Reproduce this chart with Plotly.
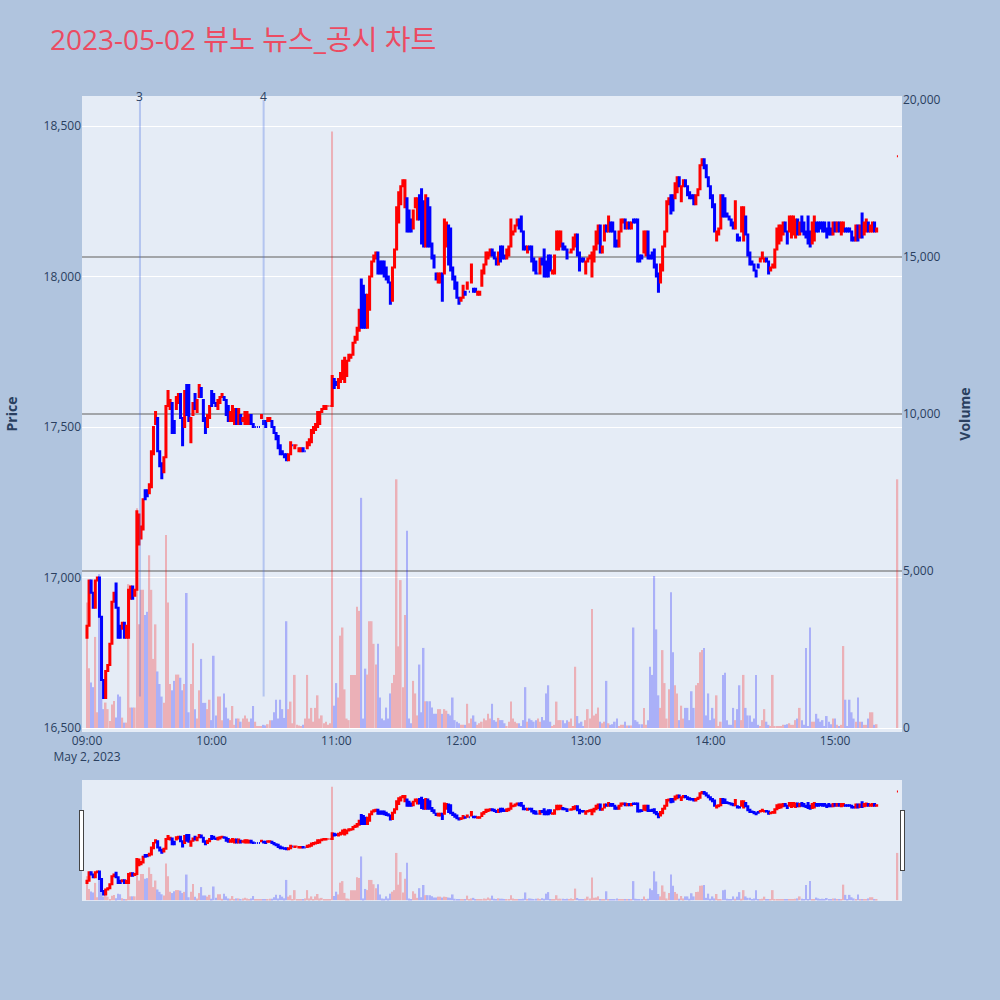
import plotly.graph_objects as go
import pandas as pd

# ---------------- data (1-minute candles, 09:00 .. 15:20, plus 15:30 close) ----------------
open_p = [
    16800, 16840, 16990, 16950, 16900, 16990, 17000, 16870, 16660, 16600,
    16690, 16710, 16780, 16920, 16980, 16900, 16840, 16830, 16850, 16800,
    16800, 16930, 16970, 16940, 16960, 17110, 17130, 17160, 17290, 17290,
    17280, 17300, 17410, 17510, 17530, 17420, 17380, 17350, 17400, 17570,
    17560, 17580, 17520, 17560, 17580, 17610, 17530, 17500, 17640, 17640,
    17450, 17540, 17610, 17550, 17600, 17630, 17590, 17530, 17500, 17530,
    17620, 17610, 17580, 17560, 17580, 17600, 17600, 17590, 17570, 17520,
    17520, 17510, 17560, 17510, 17540, 17520, 17510, 17510, 17510, 17540,
    17510, 17500, 17500, 17500, 17530, 17520, 17520, 17520, 17520, 17520,
    17500, 17480, 17470, 17440, 17420, 17410, 17410, 17390, 17410, 17440,
    17430, 17440, 17420, 17420, 17430, 17420, 17430, 17440, 17450, 17480,
    17490, 17500, 17510, 17550, 17560, 17560, 17570, 17570, 17570, 17660,
    17650, 17630, 17650, 17660, 17650, 17670, 17720, 17730, 17740, 17780,
    17790, 17820, 17990, 17970, 17940, 17830, 17890, 18000, 18050, 18060,
    18080, 18050, 18050, 18050, 18030, 18000, 17980, 17920, 18030, 18090,
    18180, 18240, 18300, 18230, 18260, 18220, 18190, 18160, 18230, 18190,
    18270, 18290, 18250, 18100, 18260, 18230, 18110, 18070, 18010, 17980,
    17980, 18010, 18010, 18100, 18170, 18160, 18030, 18000, 17980, 17930,
    17920, 17930, 17950, 17960, 17950, 17980, 17960, 17960, 17940, 17940,
    17970, 18010, 18040, 18060, 18070, 18090, 18080, 18060, 18040, 18100,
    18100, 18070, 18060, 18070, 18100, 18140, 18150, 18170, 18190, 18200,
    18150, 18100, 18080, 18100, 18100, 18060, 18050, 18010, 18010, 18060,
    18090, 18050, 18070, 18070, 18010, 18010, 18090, 18090, 18100, 18110,
    18100, 18090, 18080, 18080, 18090, 18100, 18140, 18080, 18060, 18060,
    18010, 18050, 18060, 18000, 18050, 18090, 18110, 18170, 18080, 18120,
    18170, 18150, 18180, 18180, 18150, 18120, 18100, 18150, 18180, 18190,
    18160, 18180, 18160, 18190, 18190, 18190, 18070, 18070, 18080, 18070,
    18150, 18070, 18080, 18090, 18040, 18010, 17980, 18020, 18100, 18150,
    18240, 18270, 18270, 18260, 18280, 18330, 18250, 18300, 18320, 18300,
    18280, 18270, 18270, 18240, 18270, 18290, 18370, 18390, 18370, 18330,
    18300, 18270, 18240, 18120, 18140, 18160, 18270, 18260, 18210, 18200,
    18190, 18180, 18160, 18140, 18130, 18150, 18120, 18200, 18140, 18080,
    18050, 18040, 18020, 18040, 18050, 18060, 18050, 18060, 18050, 18020,
    18030, 18030, 18090, 18110, 18120, 18140, 18180, 18150, 18150, 18130,
    18140, 18130, 18190, 18140, 18200, 18180, 18150, 18200, 18150, 18110,
    18120, 18180, 18180, 18180, 18180, 18180, 18160, 18180, 18160, 18140,
    18180, 18150, 18180, 18140, 18150, 18160, 18160, 18160, 18150, 18130,
    18120, 18170, 18130, 18210, 18140, 18150, 18180, 18150, 18150, 18180, 18150,
    18400,
]
close_p = [
    16840, 16990, 16950, 16900, 16990, 17000, 16870, 16660, 16600, 16690,
    16710, 16780, 16920, 16950, 16900, 16800, 16800, 16850, 16800, 16840,
    16960, 16970, 16930, 16960, 17220, 17210, 17170, 17260, 17260, 17270,
    17310, 17420, 17500, 17550, 17420, 17370, 17330, 17400, 17570, 17620,
    17590, 17480, 17480, 17600, 17610, 17530, 17440, 17620, 17540, 17520,
    17530, 17580, 17560, 17590, 17640, 17600, 17520, 17480, 17540, 17570,
    17570, 17580, 17570, 17590, 17600, 17610, 17590, 17540, 17520, 17550,
    17570, 17560, 17510, 17560, 17510, 17530, 17550, 17550, 17540, 17510,
    17500, 17500, 17500, 17500, 17540, 17510, 17500, 17530, 17530, 17500,
    17480, 17460, 17430, 17410, 17410, 17400, 17390, 17410, 17450, 17440,
    17440, 17440, 17430, 17430, 17420, 17420, 17450, 17460, 17490, 17500,
    17510, 17550, 17550, 17560, 17570, 17570, 17570, 17570, 17670, 17630,
    17640, 17660, 17680, 17720, 17730, 17720, 17740, 17740, 17780, 17800,
    17830, 17890, 17830, 17830, 17830, 17940, 18000, 18050, 18070, 18080,
    18010, 18010, 18010, 18000, 17990, 17980, 17910, 18030, 18090, 18230,
    18280, 18300, 18320, 18320, 18150, 18150, 18150, 18220, 18260, 18260,
    18190, 18110, 18100, 18270, 18100, 18100, 18060, 18030, 17990, 18010,
    18010, 17920, 18190, 18180, 18040, 18020, 17990, 17960, 17930, 17910,
    17930, 17970, 17940, 17980, 17950, 18040, 17950, 17950, 17950, 17950,
    18020, 18040, 18080, 18080, 18090, 18070, 18060, 18040, 18080, 18050,
    18060, 18060, 18090, 18100, 18190, 18150, 18170, 18190, 18160, 18150,
    18090, 18090, 18100, 18090, 18050, 18020, 18010, 18010, 18060, 18040,
    18000, 18000, 18000, 18020, 18020, 18070, 18150, 18150, 18150, 18090,
    18090, 18060, 18080, 18090, 18130, 18140, 18070, 18020, 18050, 18050,
    18050, 18060, 18070, 18080, 18100, 18150, 18170, 18080, 18100, 18170,
    18150, 18200, 18150, 18150, 18100, 18100, 18150, 18190, 18190, 18160,
    18180, 18160, 18180, 18180, 18180, 18050, 18050, 18060, 18150, 18150,
    18060, 18060, 18060, 18030, 18000, 17950, 18040, 18100, 18150, 18250,
    18260, 18210, 18220, 18310, 18330, 18300, 18300, 18320, 18300, 18270,
    18260, 18260, 18240, 18270, 18290, 18370, 18390, 18360, 18330, 18300,
    18260, 18230, 18150, 18150, 18160, 18270, 18200, 18200, 18200, 18190,
    18170, 18160, 18250, 18120, 18120, 18230, 18230, 18140, 18070, 18040,
    18040, 18020, 18000, 18030, 18060, 18080, 18060, 18050, 18010, 18030,
    18040, 18090, 18160, 18170, 18170, 18180, 18150, 18110, 18200, 18200,
    18200, 18190, 18140, 18180, 18150, 18140, 18130, 18110, 18100, 18180,
    18200, 18150, 18150, 18160, 18150, 18150, 18130, 18140, 18140, 18180,
    18150, 18180, 18150, 18180, 18180, 18150, 18150, 18150, 18120, 18120,
    18170, 18120, 18170, 18130, 18180, 18190, 18150, 18170, 18180, 18150, 18160,
    18400,
]
volume = [
    4000, 1900, 1450, 1300, 2900, 500, 4900, 1900, 600, 810,
    600, 220, 750, 860, 330, 1070, 1000, 330, 170, 170,
    4580, 650, 650, 650, 7000, 3300, 4400, 4400, 3600, 3700,
    5500, 4400, 2200, 3300, 1800, 1400, 1000, 800, 6150, 4000,
    1400, 1200, 1500, 1700, 1700, 1600, 1200, 1400, 4300, 500,
    1400, 2700, 600, 300, 1200, 2200, 800, 800, 600, 900,
    250, 2300, 400, 1000, 1000, 250, 1100, 650, 300, 250,
    700, 100, 300, 300, 200, 300, 400, 300, 200, 300,
    700, 200, 50, 50, 50, 100, 80, 120, 250, 250,
    500, 900, 300, 900, 600, 320, 3400, 600, 840, 150,
    1690, 100, 80, 60, 100, 300, 1690, 300, 640, 200,
    640, 1040, 300, 400, 150, 200, 100, 150, 19000, 710,
    1430, 970, 2940, 3200, 1230, 300, 250, 1690, 1690, 1690,
    3860, 3730, 7330, 300, 1890, 1700, 3400, 3400, 2680, 2020,
    2680, 970, 300, 250, 650, 300, 1100, 1430, 1690, 7920,
    2600, 4710, 1300, 3600, 6280, 300, 150, 1500, 1100, 400,
    2020, 500, 2550, 850, 850, 850, 650, 450, 450, 600,
    600, 450, 600, 550, 450, 400, 970, 250, 200, 150,
    100, 100, 100, 770, 150, 300, 400, 200, 100, 150,
    200, 300, 250, 450, 300, 770, 250, 200, 320, 250,
    250, 150, 50, 200, 840, 300, 200, 150, 150, 60,
    250, 1300, 200, 300, 250, 200, 250, 300, 200, 350,
    250, 1100, 1360, 200, 60, 100, 840, 250, 250, 250,
    150, 250, 200, 300, 50, 1950, 380, 150, 200, 60,
    250, 600, 300, 3790, 400, 450, 650, 200, 150, 200,
    1500, 150, 100, 120, 200, 300, 50, 100, 100, 200,
    80, 80, 80, 3200, 250, 200, 120, 120, 640, 100,
    250, 1950, 1690, 4840, 3140, 1040, 640, 2480, 1430, 300,
    1230, 4320, 2410, 1360, 1100, 250, 710, 300, 640, 640,
    250, 1170, 640, 1360, 1430, 2410, 2480, 2550, 400, 1100,
    250, 640, 300, 1040, 50, 200, 1690, 1760, 250, 100,
    100, 640, 250, 600, 1360, 250, 1690, 640, 400, 400,
    200, 300, 1690, 100, 50, 250, 600, 200, 100, 50,
    1690, 50, 50, 50, 50, 100, 100, 120, 150, 100,
    100, 250, 300, 640, 250, 100, 2550, 50, 3200, 200,
    200, 450, 300, 200, 250, 50, 380, 200, 120, 300,
    300, 100, 50, 100, 2610, 900, 50, 900, 500, 300,
    200, 970, 200, 200, 100, 100, 300, 500, 500, 100, 120,
    7920,
]

news_times = ["2023-05-02 09:25:30", "2023-05-02 10:25:00"]
news_labels = ["3", "4"]
volume_grid_levels = [5000, 10000, 15000]

title_text = "2023-05-02 뷰노 뉴스_공시 차트"

# ---------------- build ----------------
times = list(pd.date_range("2023-05-02 09:00", periods=381, freq="min").strftime("%Y-%m-%d %H:%M:%S"))
times.append("2023-05-02 15:30:00")

high_p = [max(o, c) for o, c in zip(open_p, close_p)]
low_p = [min(o, c) for o, c in zip(open_p, close_p)]
vol_colors = ["red" if c >= o else "blue" for o, c in zip(open_p, close_p)]

fig = go.Figure()

fig.add_trace(go.Bar(
    x=times, y=volume, yaxis="y2", marker=dict(color=vol_colors, line=dict(width=0)),
    opacity=0.25, name="Volume", hoverinfo="x+y",
))

fig.add_trace(go.Candlestick(
    x=times, open=open_p, high=high_p, low=low_p, close=close_p,
    increasing=dict(line=dict(color="red", width=2), fillcolor="red"),
    decreasing=dict(line=dict(color="blue", width=2), fillcolor="blue"),
    name="Price",
))

shapes = []
annotations = []
for lvl in volume_grid_levels:
    shapes.append(dict(type="line", xref="paper", yref="y2", x0=0, x1=1, y0=lvl, y1=lvl,
                       layer="below", line=dict(color="rgba(110,110,110,0.75)", width=1.5)))
for t, lab in zip(news_times, news_labels):
    shapes.append(dict(type="line", xref="x", yref="y2", x0=t, x1=t, y0=1000, y1=20000,
                       line=dict(color="rgba(65,105,225,0.3)", width=2)))
    annotations.append(dict(x=t, y=1, xref="x", yref="paper", text=lab, showarrow=False,
                            yanchor="middle", font=dict(size=12, color="#2a3f5f")))

fig.update_layout(
    width=1000, height=1000,
    paper_bgcolor="#B0C4DE", plot_bgcolor="#E5ECF6",
    margin=dict(l=80, r=98, t=96, b=100),
    showlegend=False,
    title=dict(text=title_text, x=0.05, xanchor="left", y=0.96, yanchor="middle",
               font=dict(size=28, color="#EC4B62")),
    font=dict(family="Open Sans, Noto Sans CJK KR, sans-serif", color="#2a3f5f"),
    xaxis=dict(
        type="date",
        range=["2023-05-02 08:57:36", "2023-05-02 15:32:12"],
        showgrid=False, zeroline=False,
        rangeslider=dict(visible=True, bgcolor="#E5ECF6", thickness=0.15),
        tickfont=dict(size=12),
    ),
    yaxis=dict(
        title=dict(text="<b>Price</b>", font=dict(size=14), standoff=22),
        range=[16487, 18600], dtick=500, tickformat=",",
        gridcolor="white", zeroline=False,
    ),
    yaxis2=dict(
        title=dict(text="<b>Volume</b>", font=dict(size=14), standoff=20),
        overlaying="y", side="right",
        range=[-128, 20128], dtick=5000, tickformat=",",
        showgrid=False, zeroline=False,
    ),
    shapes=shapes,
    annotations=annotations,
)

fig.write_html("out.html", config={"displayModeBar": False},
               post_script="document.body.style.margin='0';")
